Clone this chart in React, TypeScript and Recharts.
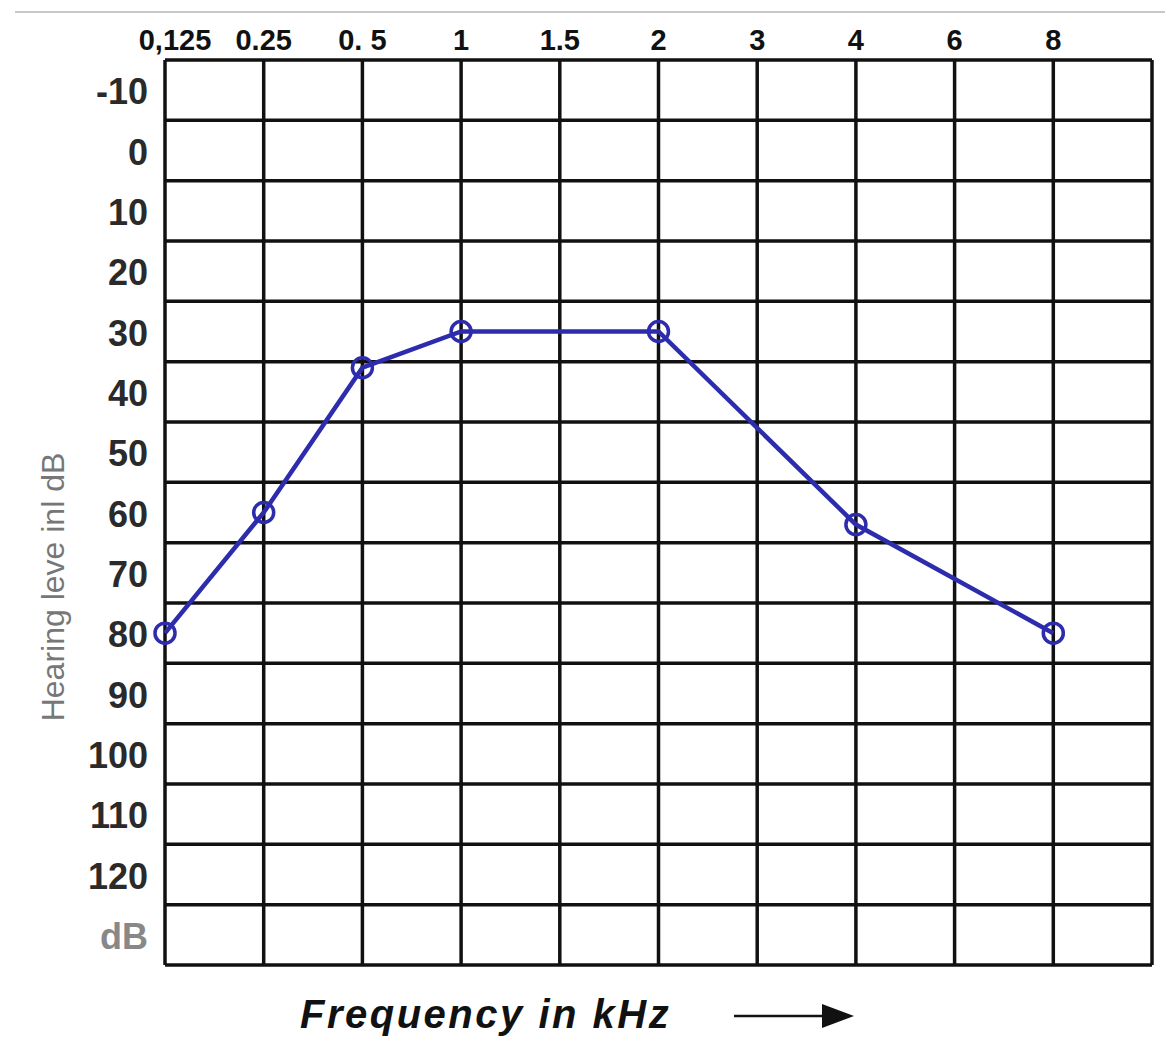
import { LineChart, Line, XAxis, YAxis, ReferenceLine } from "recharts"

// audiogram columns (kHz) as printed on the form
const freqLabels = ["0,125", "0.25", "0. 5", "1", "1.5", "2", "3", "4", "6", "8"]
// measured hearing level (dB), null where no point was marked
const hearingLevels: (number | null)[] = [80, 60, 36, 30, null, 30, null, 62, null, 80]
// row values on the level axis, last row is the unit row
const levelTicks = [-10, 0, 10, 20, 30, 40, 50, 60, 70, 80, 90, 100, 110, 120, 130]
const levelLabels = ["-10", "0", "10", "20", "30", "40", "50", "60", "70", "80", "90", "100", "110", "120", "dB"]

const INK = "#111"
const PEN = "#2c2cad"

const data = freqLabels.map((f, i) => ({ idx: i, freq: f, level: hearingLevels[i] }))
const colEdges = Array.from({ length: freqLabels.length + 1 }, (_, i) => i)
const rowEdges = [...levelTicks.map((v) => v - 5), levelTicks[levelTicks.length - 1] + 5]

const FreqTick = (props: any) => {
  const { x, y, payload } = props
  const shift = payload.value === 0 ? 10 : 0
  return (
    <text x={x + shift} y={y} textAnchor="middle" fontSize={29} fontWeight={700}
      fontFamily="Liberation Sans, Arial, sans-serif" fill={INK}>
      {freqLabels[payload.value]}
    </text>
  )
}

const LevelTick = (props: any) => {
  const { x, y, payload } = props
  const i = levelTicks.indexOf(payload.value)
  return (
    <text x={x} y={y} dy={14} textAnchor="end" fontSize={36} fontWeight={700}
      fontFamily="Liberation Sans, Arial, sans-serif" fill={i === levelTicks.length - 1 ? "#888" : "#2a2a2a"}>
      {levelLabels[i]}
    </text>
  )
}

export default function App() {
  return (
    <div style={{ position: "absolute", left: 0, top: 0, width: 1165, height: 1042, background: "#fff", fontFamily: "Liberation Sans, Arial, sans-serif" }}>
      <div style={{ position: "absolute", left: 15, top: 11, width: 1150, height: 2, background: "#c8c8c8" }} />
      <LineChart width={1165} height={1042} data={data} margin={{ top: 10, right: 13, bottom: 77, left: 15 }}>
        <XAxis dataKey="idx" type="number" orientation="top" domain={[0, freqLabels.length]}
          ticks={colEdges.slice(0, -1)} height={50} axisLine={false} tickLine={false}
          tickSize={0} tickMargin={10} tick={<FreqTick />} interval={0} />
        <YAxis type="number" domain={[rowEdges[0], rowEdges[rowEdges.length - 1]]} reversed
          ticks={levelTicks} width={150} axisLine={false} tickLine={false}
          tickSize={0} tickMargin={17} tick={<LevelTick />} interval={0} />
        {rowEdges.map((v) => (
          <ReferenceLine key={"r" + v} y={v} stroke={INK} strokeWidth={3.5} />
        ))}
        {colEdges.map((c) => (
          <ReferenceLine key={"c" + c} x={c} stroke={INK} strokeWidth={3.5} />
        ))}
        <Line dataKey="level" type="linear" stroke={PEN} strokeWidth={4.5} connectNulls
          dot={{ r: 10, stroke: PEN, strokeWidth: 3.5, fill: "none" }} isAnimationActive={false} />
      </LineChart>
      <div style={{ position: "absolute", left: 53, top: 587, transform: "translate(-50%, -50%) rotate(-90deg)", whiteSpace: "nowrap", fontSize: 32, color: "#777" }}>
        Hearing leve inl dB
      </div>
      <div style={{ position: "absolute", left: 300, top: 992, whiteSpace: "nowrap", fontSize: 40, fontWeight: 700, fontStyle: "italic", letterSpacing: 2.5, color: INK }}>
        Frequency in kHz
      </div>
      <svg style={{ position: "absolute", left: 730, top: 1001 }} width={130} height={30}>
        <line x1={4} y1={15} x2={96} y2={15} stroke={INK} strokeWidth={2.5} />
        <polygon points="92,3 124,15 92,27" fill={INK} />
      </svg>
    </div>
  )
}
